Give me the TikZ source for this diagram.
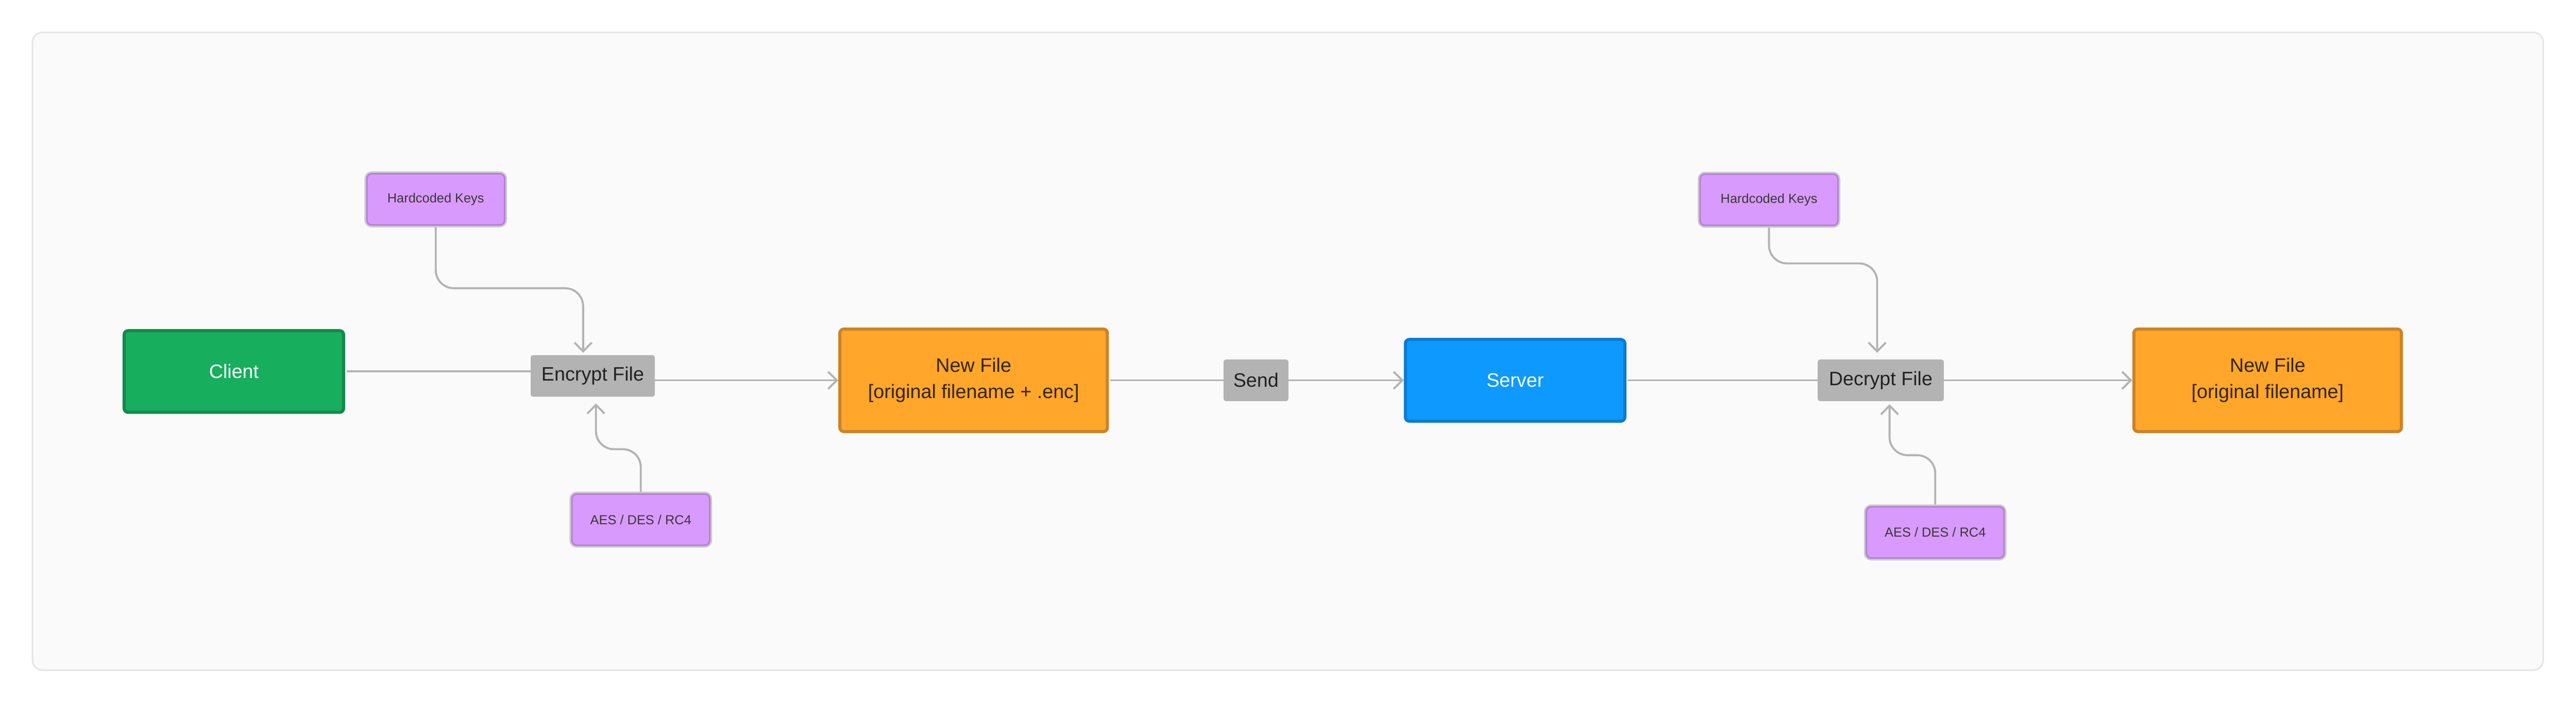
\documentclass[tikz,border=0pt]{standalone}
\usepackage{fontspec}
\setmainfont{Liberation Sans}
\usepackage{xcolor}
\usepackage{tikz}
\usetikzlibrary{arrows.meta,positioning}
\definecolor{panelfill}{HTML}{FAFAFA}
\definecolor{panelline}{HTML}{E6E6E6}
\definecolor{clientgreen}{HTML}{17AE5E}
\definecolor{clientline}{HTML}{138A4A}
\definecolor{fileorange}{HTML}{FFA62B}
\definecolor{fileline}{HTML}{CC8426}
\definecolor{fileink}{HTML}{33260F}
\definecolor{serverblue}{HTML}{0E99FF}
\definecolor{serverline}{HTML}{0B7CD4}
\definecolor{keypurple}{HTML}{D99AFD}
\definecolor{keyline}{HTML}{B480D6}
\definecolor{keyhalo}{HTML}{CBCBCB}
\definecolor{stepgray}{HTML}{B3B3B3}
\definecolor{darkink}{HTML}{222222}

\begin{document}
\begin{tikzpicture}[
    bigfont/.style={font=\fontsize{13.8}{18.5}\selectfont},
    box/.style={rectangle, rounded corners=0.1cm, line width=2.2pt, bigfont, align=center},
    actor/.style={box, minimum width=5.48cm, minimum height=2.04cm, text=white},
    filebox/.style={box, draw=fileline, fill=fileorange, text=fileink, minimum width=6.68cm, minimum height=2.56cm},
    stepbox/.style={rectangle, rounded corners=0.06cm, fill=stepgray, text=darkink, bigfont, minimum height=1.04cm},
    keybox/.style={rectangle, rounded corners=0.12cm, draw=keyline, fill=keypurple, line width=1.1pt,
        preaction={draw=keyhalo, line width=3.4pt}, text=darkink!90, font=\fontsize{9.3}{11}\selectfont,
        minimum width=3.44cm, minimum height=1.28cm},
    link/.style={draw=stepgray, line width=1.42pt, line cap=round},
    arrow/.style={link, -{Straight Barb[length=0.22cm, width=0.43cm]}}
]
    \useasboundingbox (0,0) rectangle (64.32,-17.60);
    \draw[fill=panelfill, draw=panelline, line width=1.14pt, rounded corners=0.25cm] (0.81,-0.81) rectangle (63.50,-16.74);

    % encrypt side
    \node[actor, draw=clientline, fill=clientgreen] (client) at (5.84,-9.28) {Client};
    \node[stepbox, minimum width=3.10cm] (encrypt) at (14.80,-9.39) {Encrypt File};
    \node[keybox] (keysA) at (10.88,-4.98) {Hardcoded Keys};
    \node[keybox] (algoA) at (16.00,-12.98) {AES / DES / RC4};
    \node[filebox] (newenc) at (24.31,-9.50) {New File\\{}[original filename + .enc]};

    % transfer
    \node[stepbox, minimum width=1.62cm] (send) at (31.36,-9.50) {Send};
    \node[actor, draw=serverline, fill=serverblue] (server) at (37.83,-9.50) {Server};

    % decrypt side
    \node[stepbox, minimum width=3.15cm] (decrypt) at (46.96,-9.50) {Decrypt File};
    \node[keybox] (keysB) at (44.17,-4.99) {Hardcoded Keys};
    \node[keybox] (algoB) at (48.32,-13.30) {AES / DES / RC4};
    \node[filebox] (newplain) at (56.62,-9.50) {New File\\{}[original filename]};

    \draw[link, shorten <=0.06cm] (client.east) -- (client.east -| encrypt.west);
    \draw[arrow] (encrypt.east |- newenc.west) -- (newenc.west);
    \draw[arrow, rounded corners=0.45cm, shorten <=0.05cm, shorten >=0.05cm] (keysA.south) -- ++(0,-1.56) -| ([xshift=-0.24cm]encrypt.north);
    \draw[arrow, rounded corners=0.45cm, shorten <=0.05cm, shorten >=0.16cm] (algoA.north) -- ++(0,1.10) -| ([xshift=0.08cm]encrypt.south);

    \draw[link, shorten <=0.05cm] (newenc.east) -- (send.west);
    \draw[arrow] (send.east) -- (server.west);
    \draw[link, shorten <=0.05cm] (server.east) -- (decrypt.west);
    \draw[arrow] (decrypt.east) -- (newplain.west);

    \draw[arrow, rounded corners=0.45cm, shorten <=0.05cm, shorten >=0.16cm] (keysB.south) -- ++(0,-0.93) -| ([xshift=-0.09cm]decrypt.north);
    \draw[arrow, rounded corners=0.45cm, shorten <=0.05cm, shorten >=0.07cm] (algoB.north) -- ++(0,1.27) -| ([xshift=0.22cm]decrypt.south);
\end{tikzpicture}
\end{document}
